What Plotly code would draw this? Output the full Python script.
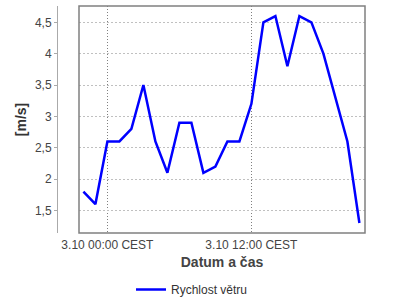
import plotly.graph_objects as go

times = [
    "2023-10-02 22:00", "2023-10-02 23:00", "2023-10-03 00:00", "2023-10-03 01:00",
    "2023-10-03 02:00", "2023-10-03 03:00", "2023-10-03 04:00", "2023-10-03 05:00",
    "2023-10-03 06:00", "2023-10-03 07:00", "2023-10-03 08:00", "2023-10-03 09:00",
    "2023-10-03 10:00", "2023-10-03 11:00", "2023-10-03 12:00", "2023-10-03 13:00",
    "2023-10-03 14:00", "2023-10-03 15:00", "2023-10-03 16:00", "2023-10-03 17:00",
    "2023-10-03 18:00", "2023-10-03 19:00", "2023-10-03 20:00", "2023-10-03 21:00",
]
speed = [1.8, 1.6, 2.6, 2.6, 2.8, 3.5, 2.6, 2.1, 2.9, 2.9, 2.1, 2.2,
         2.6, 2.6, 3.2, 4.5, 4.6, 3.8, 4.6, 4.5, 4.0, 3.3, 2.6, 1.3]

series_name = "Rychlost větru"
x_tickvals = ["2023-10-03 00:00", "2023-10-03 12:00"]
x_ticktext = ["3.10 00:00 CEST", "3.10 12:00 CEST"]
y_tickvals = [1.5, 2, 2.5, 3, 3.5, 4, 4.5]
y_ticktext = ["1,5", "2", "2,5", "3", "3,5", "4", "4,5"]

W, H = 400, 300
ml, mr, mt, mb = 0, 35, 6, 67
pw = W - ml - mr

fig = go.Figure()
fig.add_trace(go.Scatter(x=times, y=speed, mode="lines", name=series_name,
                         line=dict(color="#0000ff", width=2.5)))

font = "Liberation Sans, Arial, sans-serif"
fig.update_layout(
    width=W, height=H,
    margin=dict(l=ml, r=mr, t=mt, b=mb),
    paper_bgcolor="white", plot_bgcolor="white",
    font=dict(family=font, size=12, color="#444444"),
    showlegend=True,
    legend=dict(orientation="h", xref="container", yref="container",
                x=0.48, xanchor="center", y=0.035, yanchor="middle",
                font=dict(size=12, color="#333333")),
    xaxis=dict(
        type="date", domain=[79 / pw, 1],
        range=["2023-10-02 21:38", "2023-10-03 21:28"],
        tickvals=x_tickvals, ticktext=x_ticktext,
        showgrid=True, gridcolor="#808080", griddash="1px,2px", gridwidth=1,
        ticks="", showline=False, zeroline=False, ticklabelstandoff=3,
        tickfont=dict(size=12, color="#444444"),
        title=dict(text="<b>Datum a čas</b>", font=dict(size=14, color="#444444"), standoff=6),
        automargin=False,
    ),
    yaxis=dict(
        anchor="free", position=57 / pw,
        range=[1.14, 4.76],
        tickvals=y_tickvals, ticktext=y_ticktext,
        showgrid=True, gridcolor="#c0c0c0", griddash="2px,2px", gridwidth=1,
        ticks="outside", ticklen=3, tickcolor="#aaaaaa",
        showline=True, linecolor="#aaaaaa", linewidth=1,
        zeroline=False,
        tickfont=dict(size=12, color="#444444"),
        title=dict(text="<b>[m/s]</b>", font=dict(size=14, color="#333333"), standoff=4),
        automargin=False,
    ),
)
fig.add_shape(type="rect", xref="x domain", yref="y domain", x0=0, x1=1, y0=0, y1=1,
              line=dict(color="#808080", width=1.5), layer="above")

fig.write_html("out.html")
